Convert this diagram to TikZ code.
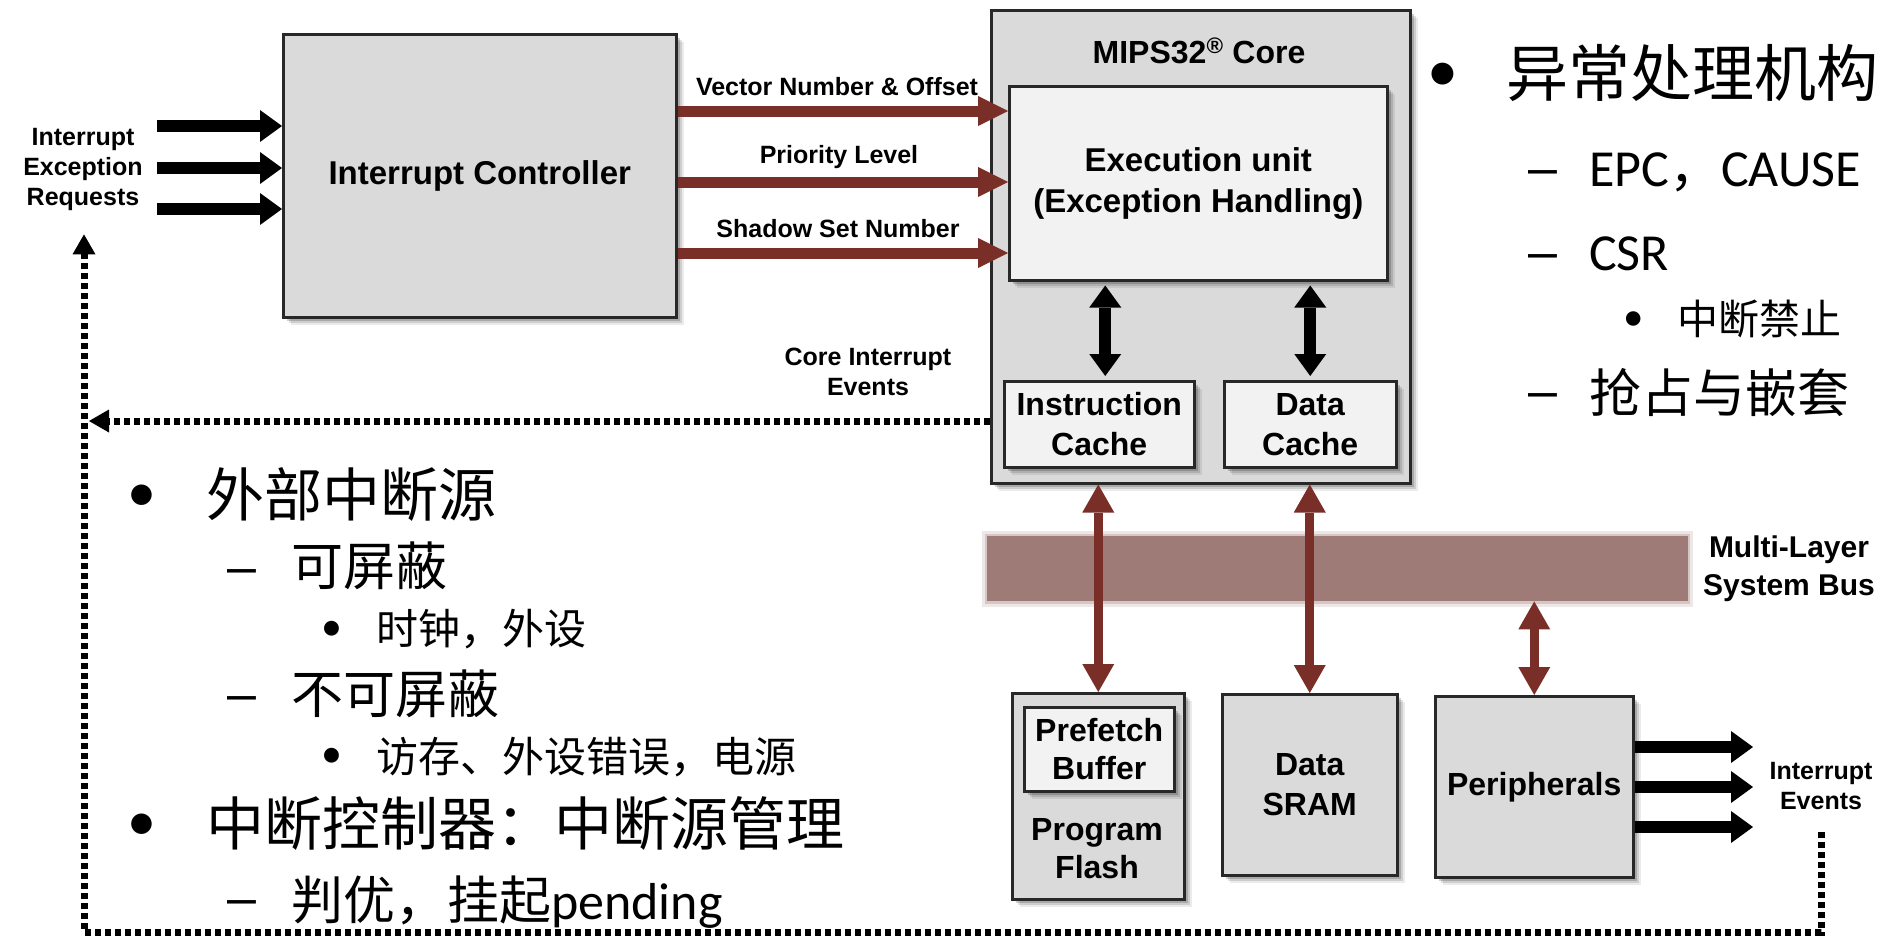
\documentclass[tikz,border=0pt]{standalone}
\usepackage{fontspec}
\setmainfont{Liberation Sans}
\newfontfamily\cjk{Noto Sans CJK SC}
\newfontfamily\lat{Carlito}
\usetikzlibrary{arrows.meta,shadows,calc}

\newcommand\setpx[2]{\fontsize{#1}{#2}\selectfont}

\definecolor{boxgray}{RGB}{218,218,218}
\definecolor{boxlight}{RGB}{242,242,242}
\definecolor{boxline}{RGB}{40,40,40}
\definecolor{sigbrown}{RGB}{122,46,40}
\definecolor{busfill}{RGB}{159,123,120}

\tikzset{
  softshadow/.style={
    drop shadow={shadow xshift=8pt, shadow yshift=-8pt, opacity=0.08, fill=black},
    drop shadow={shadow xshift=6pt, shadow yshift=-6pt, opacity=0.12, fill=black},
    drop shadow={shadow xshift=4pt, shadow yshift=-4pt, opacity=0.18, fill=black}},
  unit/.style={draw=boxline, line width=2.5pt, fill=boxgray, softshadow,
    inner sep=0pt, anchor=north west, align=center,
    font=\bfseries\setpx{32}{40}},
  subunit/.style={unit, fill=boxlight},
  siglabel/.style={font=\bfseries\setpx{25}{30}, inner sep=0pt, align=center},
  blocktip/.style={-{Triangle[width=32pt,length=22pt,line width=0pt]}},
  blockarrow/.style={draw=black, line width=12pt, blocktip},
  dblblack/.style={draw=black, line width=12pt,
    {Triangle[width=32pt,length=22pt,line width=0pt]}-{Triangle[width=32pt,length=22pt,line width=0pt]}},
  sigarrow/.style={draw=sigbrown, line width=11pt,
    -{Triangle[width=30pt,length=30pt,line width=0pt]}},
  busarrow/.style={draw=sigbrown, line width=9pt,
    {Triangle[width=32pt,length=28pt,line width=0pt]}-{Triangle[width=32pt,length=28pt,line width=0pt]}},
  feedback/.style={draw=black, line width=7pt, dash pattern=on 6pt off 4pt,
    -{Triangle[width=23pt,length=20pt,line width=0pt]}},
  bulletmark/.style={anchor=base, inner sep=0pt},
  listitem/.style={anchor=base west, inner sep=0pt},
  dashmark/.style={anchor=base west, inner sep=0pt, font=\setpx{52}{52}},
}

\begin{document}
\begin{tikzpicture}[x=1pt,y=-1pt]
\useasboundingbox (0,0) rectangle (1893,940);

% ---------- interrupt controller ----------
\node[unit, minimum width=393pt, minimum height=283pt, font=\bfseries\setpx{33}{40}]
  (ic) at (282,33) {Interrupt Controller};
\node[siglabel] (ier) at (83,169) {Interrupt\\Exception\\Requests};
\coordinate (in1) at (157,126);
\coordinate (in2) at (157,168);
\coordinate (in3) at (157,209);
\draw[blockarrow] (in1) -- (ic.west |- in1);
\draw[blockarrow] (in2) -- (ic.west |- in2);
\draw[blockarrow] (in3) -- (ic.west |- in3);

% ---------- MIPS32 core ----------
\node[unit, minimum width=419pt, minimum height=473pt] (core) at (990,9) {};
\node[bulletmark, font=\bfseries\setpx{32}{32}] (coretitle) at (1199,63)
  {MIPS32\textsuperscript{\textregistered} Core};
\node[subunit, minimum width=378pt, minimum height=194pt, font=\bfseries\setpx{33}{41}]
  (exec) at (1008,85) {Execution unit\\(Exception Handling)};
\node[subunit, minimum width=190pt, minimum height=86pt] (icache) at (1003,380) {Instruction\\Cache};
\node[subunit, minimum width=172pt, minimum height=86pt] (dcache) at (1223,380) {Data\\Cache};
\draw[dblblack] ($(exec.south -| icache)+(6,4)$) -- ($(icache.north)+(6,-4)$);
\draw[dblblack] ($(exec.south -| dcache)+(0,4)$) -- ($(dcache.north)+(0,-4)$);

% ---------- signals from the controller to the core ----------
\coordinate (yvec) at (0,111);
\coordinate (ypri) at (0,182);
\coordinate (ysha) at (0,253);
\draw[sigarrow] (ic.east |- yvec) -- (exec.west |- yvec);
\draw[sigarrow] (ic.east |- ypri) -- (exec.west |- ypri);
\draw[sigarrow] (ic.east |- ysha) -- (exec.west |- ysha);
\node[siglabel, anchor=base] (lvec) at (837,95) {Vector Number \& Offset};
\node[siglabel, anchor=base] (lpri) at (839,163) {Priority Level};
\node[siglabel, anchor=base] (lsha) at (838,237) {Shadow Set Number};

% ---------- core interrupt events ----------
\node[siglabel] (cil) at (868,372) {Core Interrupt\\Events};
\coordinate (cie) at (89,421);
\draw[feedback] (core.west |- cie) -- (cie);

% ---------- system bus ----------
\coordinate (busnw) at (987,536);
\coordinate (busse) at (1688,601);
\fill[busfill, opacity=0.18] ($(busnw)+(-5,-5)$) rectangle ($(busse)+(5,6)$);
\fill[busfill, opacity=0.3] ($(busnw)+(-2,-2)$) rectangle ($(busse)+(2,3)$);
\node[fill=busfill, inner sep=0pt, minimum width=701pt, minimum height=65pt,
  anchor=north west] (bus) at (busnw) {};
\node[siglabel, font=\bfseries\setpx{30}{38}] (buslbl) at (1789,569) {Multi-Layer\\System Bus};

% ---------- memories and peripherals ----------
\node[unit, minimum width=172pt, minimum height=206pt] (flash) at (1011,692) {};
\node[subunit, minimum width=150pt, minimum height=84pt, font=\bfseries\setpx{32}{38}]
  (prefetch) at (1023,706) {Prefetch\\Buffer};
\node[inner sep=0pt, align=center, font=\bfseries\setpx{32}{38}] (flashlbl) at (1097,849) {Program\\Flash};
\node[unit, minimum width=175pt, minimum height=181pt] (sram) at (1221,693) {Data\\SRAM};
\node[unit, minimum width=198pt, minimum height=181pt] (periph) at (1434,695) {Peripherals};

\draw[busarrow] (core.south -| flash) -- (flash.north);
\draw[busarrow] (core.south -| sram) -- (sram.north);
\draw[busarrow] (bus.south -| periph) -- (periph.north);

% ---------- peripheral interrupt events ----------
\coordinate (out1) at (1753,747);
\coordinate (out2) at (1753,787);
\coordinate (out3) at (1753,827);
\draw[blockarrow] (periph.east |- out1) -- (out1);
\draw[blockarrow] (periph.east |- out2) -- (out2);
\draw[blockarrow] (periph.east |- out3) -- (out3);
\node[siglabel] (ie) at (1821,786) {Interrupt\\Events};

\coordinate (fbcorner) at (84,932);
\draw[feedback] ($(ie.south)+(0,22)$) |- (fbcorner) -- ($(ier.south)+(1,24)$);

% ---------- exception handling notes ----------
\node[bulletmark, font=\lat\setpx{62}{62}] (rb1) at (1443,91) {•};
\node[listitem, font=\cjk\setpx{62}{62}] (rt1) at (1506,96) {异常处理机构};
\node[dashmark] (rd2) at (1528,185) {–};
\node[listitem, font=\setpx{52}{52}] (rt2) at (1589,186) {{\lat EPC}{\cjk ，}{\lat CAUSE}};
\node[dashmark] (rd3) at (1528,269) {–};
\node[listitem, font=\lat\setpx{52}{52}] (rt3) at (1589,270) {CSR};
\node[bulletmark, font=\lat\setpx{41}{41}] (rb4) at (1634,330) {•};
\node[listitem, font=\cjk\setpx{41}{41}] (rt4) at (1677,334) {中断禁止};
\node[dashmark] (rd5) at (1528,408) {–};
\node[listitem, font=\cjk\setpx{52}{52}] (rt5) at (1589,412) {抢占与嵌套};

% ---------- interrupt source notes ----------
\node[bulletmark, font=\lat\setpx{58}{58}] (lb1) at (142,511) {•};
\node[listitem, font=\cjk\setpx{58}{58}] (lt1) at (206,516) {外部中断源};
\node[dashmark] (ld2) at (227,584) {–};
\node[listitem, font=\cjk\setpx{52}{52}] (lt2) at (291,585) {可屏蔽};
\node[bulletmark, font=\lat\setpx{42}{42}] (lb3) at (332,640) {•};
\node[listitem, font=\cjk\setpx{42}{42}] (lt3) at (376,644) {时钟，外设};
\node[dashmark] (ld4) at (227,711) {–};
\node[listitem, font=\cjk\setpx{52}{52}] (lt4) at (291,713) {不可屏蔽};
\node[bulletmark, font=\lat\setpx{42}{42}] (lb5) at (332,767) {•};
\node[listitem, font=\cjk\setpx{42}{42}] (lt5) at (376,772) {访存、外设错误，电源};
\node[bulletmark, font=\lat\setpx{58}{58}] (lb6) at (142,840) {•};
\node[listitem, font=\cjk\setpx{58}{58}] (lt6) at (206,845) {中断控制器：中断源管理};
\node[dashmark] (ld7) at (227,915) {–};
\node[listitem, font=\setpx{52}{52}] (lt7) at (291,919) {{\cjk 判优，挂起}{\lat pending}};
\end{tikzpicture}
\end{document}
